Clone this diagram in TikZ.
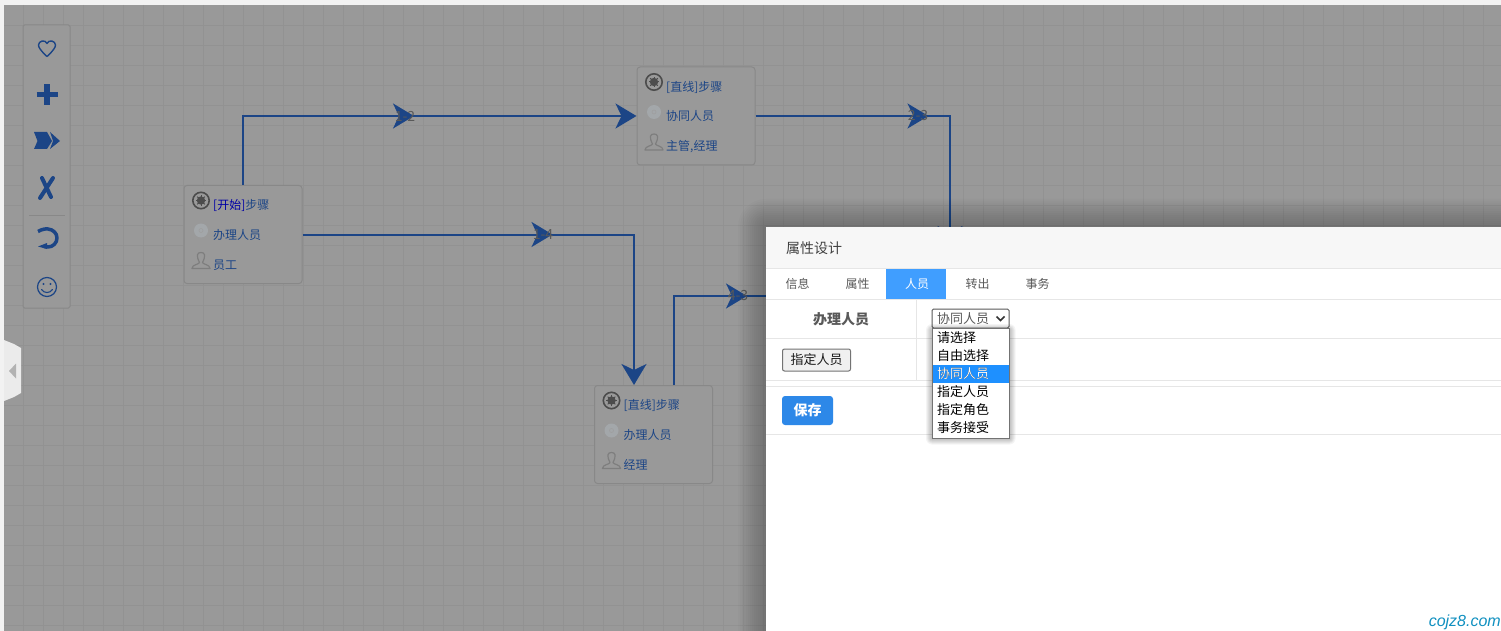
\documentclass[tikz,border=0pt]{standalone}
\usepackage{fontspec}
\setmainfont{Noto Sans CJK SC}
\newfontfamily\markfont{Liberation Sans}
\usepackage{xcolor}
\usetikzlibrary{arrows.meta, positioning, decorations.markings}

\definecolor{dimbg}{HTML}{999999}
\definecolor{gridgray}{HTML}{929292}
\definecolor{flowblue}{HTML}{1C4586}
\definecolor{stepline}{HTML}{888888}
\definecolor{badgegray}{HTML}{A3A7AA}
\definecolor{persongray}{HTML}{7E7E7E}
\definecolor{tabblue}{HTML}{409EFF}
\definecolor{savesblue}{HTML}{2D88E8}
\definecolor{pickblue}{HTML}{1E90FF}
\definecolor{rulegray}{HTML}{E6E6E6}
\definecolor{markcyan}{HTML}{1090C0}

\newcommand{\pxfont}[1]{\fontsize{#1}{#1}\selectfont}

\tikzset{
    flowtip/.tip={Stealth[length=21pt,width=25pt,inset=6pt]},
    flowline/.style={draw=flowblue,line width=2pt,-flowtip},
    midtip/.style={postaction={decorate,decoration={markings,mark=at position #1 with {\arrow{flowtip}}}}},
    flowlabel/.style={font=\pxfont{14},text=black!65,inner sep=0pt},
    stepbox/.style={rectangle,rounded corners=3pt,draw=stepline,fill=dimbg,line width=1pt,minimum width=118pt,minimum height=98pt,inner sep=0pt},
    steptext/.style={font=\pxfont{12},text=flowblue,anchor=west,inner sep=0pt},
    toolicon/.style={draw=flowblue,line cap=round,line join=round},
    dialogtext/.style={font=\pxfont{12},text=black!65,inner sep=0pt},
    menuitem/.style={font=\pxfont{13},text=black,anchor=west,inner sep=0pt},
    rulerow/.style={draw=rulegray,line width=1pt}
}

% one step card: name, centre, three text lines
\newcommand{\stepcard}[5]{
    \node[stepbox] (#1) at (#2) {};
    \node[steptext] (#1-title) at ([xshift=-30pt,yshift=29pt]#1.center) {#3};
    \node[steptext] (#1-role) at ([xshift=-30pt,yshift=0pt]#1.center) {#4};
    \node[steptext] (#1-user) at ([xshift=-30pt,yshift=-30.5pt]#1.center) {#5};
    % gear
    \begin{scope}[shift={([xshift=-42pt,yshift=34pt]#1.center)}]
        \draw[black!70,line width=1.6pt] (0,0) circle[radius=8.2pt];
        \fill[black!70] (0,0) circle[radius=4.2pt];
        \foreach \a in {0,45,...,315}
            \draw[black!70,line width=1pt] (0,0) -- (\a:5.4pt);
    \end{scope}
    % badge
    \fill[badgegray] ([xshift=-42pt,yshift=4pt]#1.center) circle[radius=7pt];
    \draw[black!38,line width=.6pt] ([xshift=-42pt,yshift=4pt]#1.center) circle[radius=2pt];
    % person
    \begin{scope}[shift={([xshift=-42pt,yshift=-27pt]#1.center)}]
        \draw[persongray,line width=1.2pt,line join=round] (-1.5,1) .. controls (-5,-6) and (-4,-9) .. (0,-9)
            .. controls (4,-9) and (5,-6) .. (1.5,1)
            .. controls (2,3) and (9,3) .. (9,7) -- (-9,7)
            .. controls (-9,3) and (-2,3) .. (-1.5,1);
    \end{scope}
}

\begin{document}
\begin{tikzpicture}[x=1pt,y=-1pt]
    \useasboundingbox (0,0) rectangle (1501,631);

    % page behind the dim layer
    \fill[white!95!black] (0,0) rectangle (1501,631);
    \fill[dimbg] (4,5) rectangle (1501,631);

    % grid
    \foreach \gx in {23.5,43.5,...,1501}
        \draw[gridgray,line width=1pt] (\gx,5) -- (\gx,631);
    \foreach \gy in {25.5,45.5,...,631}
        \draw[gridgray,line width=1pt] (4,\gy) -- (1501,\gy);

    % toolbar
    \node[rectangle,rounded corners=1.5pt,draw=stepline,fill=dimbg,line width=1pt,minimum width=47pt,minimum height=283pt,inner sep=0pt] (toolbar) at (46.5,166.5) {};
    \draw[toolicon,line width=1.4pt] (47,56.5) .. controls (40,50) and (38.5,47) .. (38.5,45)
        .. controls (38.5,41) and (45,39) .. (47,43.5)
        .. controls (49,39) and (55.5,41) .. (55.5,45)
        .. controls (55.5,47) and (54,50) .. (47,56.5);
    \draw[flowblue,line width=5.5pt] (36.5,94.5) -- (57.5,94.5) (47,84.5) -- (47,105);
    \fill[flowblue] (34,132) -- (47,132) -- (52,141) -- (47,149) -- (34,149) -- (37.5,141) -- cycle;
    \fill[flowblue] (50,132) -- (60,141) -- (50,149) -- (53,141) -- cycle;
    \draw[toolicon,line width=4pt] (42,178) -- (51,197) (53,178) -- (40,198);
    \draw[stepline,line width=1pt] (29,215) -- (65,215);
    \draw[toolicon,line width=3.5pt,line cap=butt] (38,231.5) .. controls (42,229) and (47,228.5) .. (48,229)
        .. controls (53,229.5) and (57,233) .. (57,238)
        .. controls (57,243) and (53,247) .. (48,247) -- (44,246.5);
    \fill[flowblue] (38,246.5) -- (47,243) -- (47,249) -- cycle;
    \draw[toolicon,line width=1.2pt] (47,287) circle[radius=9.5pt];
    \fill[flowblue] (43.5,284) circle[radius=1.1pt] (50.5,284) circle[radius=1.1pt];
    \draw[toolicon,line width=1.1pt] (41.5,289.5) .. controls (44,293.5) and (50,293.5) .. (52.5,289.5);

    % side tab
    \fill[black!8] (4,340) -- (14,344) -- (21,348) -- (21,393) -- (14,397) -- (4,401) -- cycle;
    \fill[black!30] (16,363.5) -- (16,378.5) -- (9,371) -- cycle;

    % step cards
    \stepcard{start}{243,234.5}{{\color{blue!65!black}[开始]}步骤}{办理人员}{员工}
    \stepcard{step2}{696,116}{[直线]步骤}{协同人员}{主管,经理}
    \stepcard{step4}{653.5,434.5}{[直线]步骤}{办理人员}{经理}

    % ends hidden by the dialog
    \coordinate (hidden3n) at (950,247);
    \coordinate (hidden3w) at (892,296);

    % connectors
    \draw[flowline,midtip=240pt] (start.north) |- (step2.west);
    \draw[flowline,midtip=173pt] (step2.east) -| (hidden3n);
    \draw[flowline,midtip=250pt] (start.east) -| ([xshift=-19.5pt]step4.north);
    \draw[flowline,midtip=162pt] ([xshift=20.5pt]step4.north) |- (hidden3w);

    % connector labels
    \node[flowlabel] (lab12) at (405,116) {1-2};
    \node[flowlabel] (lab23) at (918,116) {2-3};
    \node[flowlabel] (lab14) at (543,235) {1-4};
    \node[flowlabel] (lab43) at (738,296) {4-3};

    % dialog shadow
    \foreach \k in {1,...,14}
        \fill[black,opacity=.015,rounded corners=2*\k pt] (766-2*\k,227-2*\k) rectangle (1560,680);

    % dialog
    \node[rectangle,fill=white,anchor=north west,minimum width=735pt,minimum height=404pt,inner sep=0pt] (dialog) at (766,227) {};
    \fill[black!3] (766,227) rectangle (1501,268);
    \node[dialogtext,font=\pxfont{14},anchor=west,text=black!75] (dialogtitle) at (786,248.5) {属性设计};
    \draw[rulerow] (766,268.5) -- (1501,268.5);

    % tabs
    \node[rectangle,fill=tabblue,minimum width=60pt,minimum height=30pt,inner sep=0pt] (tabactive) at (916,284) {};
    \node[dialogtext] (tabinfo) at (797.5,283.5) {信息};
    \node[dialogtext] (tabattr) at (857.5,283.5) {属性};
    \node[dialogtext,text=white] (tabuser) at (917,283.5) {人员};
    \node[dialogtext] (tabout) at (977.5,283.5) {转出};
    \node[dialogtext] (tabtask) at (1037.5,283.5) {事务};
    \draw[rulerow] (766,299.5) -- (1501,299.5);
    \draw[rulerow] (766,338.5) -- (1501,338.5);
    \draw[rulerow] (766,380.5) -- (1501,380.5);
    \draw[rulerow] (766,386.5) -- (1501,386.5);
    \draw[rulerow] (766,434.5) -- (1501,434.5);
    \draw[rulerow] (916.5,300) -- (916.5,380);

    % form
    \node[dialogtext,font=\pxfont{14}\bfseries] (userlabel) at (841,319) {办理人员};
    \node[rectangle,rounded corners=1.5pt,draw=black!65,fill=white,line width=1pt,minimum width=77pt,minimum height=19pt,inner sep=0pt] (pick) at (970.5,318.5) {};
    \node[menuitem,text=black!65] (picktext) at (937,318.5) {协同人员};
    \draw[black!80,line width=1.6pt] (996.5,316.5) -- (1000.5,320.5) -- (1004.5,316.5);
    \node[rectangle,rounded corners=2pt,draw=black!55,fill=black!6,line width=1pt,minimum width=68pt,minimum height=22pt,inner sep=0pt,font=\pxfont{13},text=black!90] (assign) at (816.5,360) {指定人员};
    \node[rectangle,rounded corners=3pt,fill=savesblue,minimum width=51pt,minimum height=29pt,inner sep=0pt,font=\pxfont{14}\bfseries,text=white] (save) at (807.5,410.5) {保存};

    % dropdown
    \foreach \k in {1,...,6}
        \fill[black,opacity=.045,rounded corners=\k pt] (932-\k,329-\k+1) rectangle (1009.5+\k,437.5+\k+1);
    \node[rectangle,draw=black!55,fill=white,line width=1pt,minimum width=77pt,minimum height=110pt,inner sep=0pt] (menu) at (970.5,383) {};
    \fill[pickblue] (933,365) rectangle (1009,383);
    \foreach \item [count=\i] in {请选择,自由选择,协同人员,指定人员,指定角色,事务接受}
        \node[menuitem] (menu\i) at (937,320+18*\i) {\item};
    \node[menuitem,text=white] (menupick) at (937,374) {协同人员};

    % watermark
    \node[font=\markfont\itshape\pxfont{16},text=markcyan,anchor=east,inner sep=0pt] (cojz) at (1501,622) {cojz8.com};
\end{tikzpicture}
\end{document}
